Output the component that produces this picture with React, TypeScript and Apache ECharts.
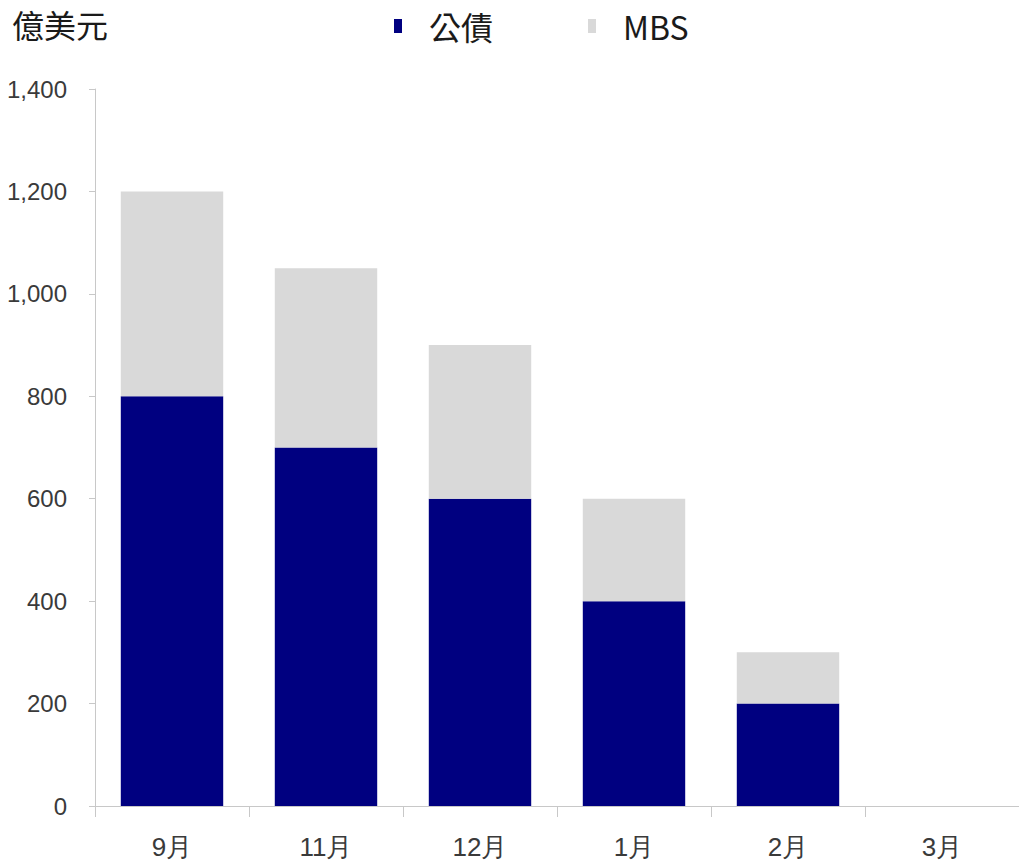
import React, { useEffect, useRef } from "react";
import * as echarts from "echarts";

const categories = ["9月", "11月", "12月", "1月", "2月", "3月"];
const treasuries = [800, 700, 600, 400, 200, 0];
const mbs = [400, 350, 300, 200, 100, 0];
const seriesNames = ["公債", "MBS"];
const unitLabel = "億美元";

const NUM_FONT = "'Liberation Sans Narrow', 'Liberation Sans', Arial, sans-serif";
const CJK_FONT = "'Noto Sans CJK TC', 'Noto Sans', sans-serif";

export default function App() {
  const ref = useRef<HTMLDivElement>(null);
  useEffect(() => {
    if (!ref.current) return;
    const chart = echarts.init(ref.current, undefined, { renderer: "svg" });
    chart.setOption({
      animation: false,
      backgroundColor: "#ffffff",
      title: {
        text: unitLabel,
        left: 7,
        top: 3,
        textStyle: { fontFamily: CJK_FONT, fontSize: 32, fontWeight: "normal", color: "#1a1a1a" },
      },
      legend: {
        left: 389,
        top: 5,
        itemWidth: 8,
        itemHeight: 14,
        itemGap: 95,
        icon: "rect",
        data: seriesNames,
        textStyle: {
          fontFamily: CJK_FONT,
          fontSize: 32,
          color: "#1a1a1a",
          padding: [0, 0, 0, 22],
        },
      },
      grid: { left: 95, width: 928, top: 89, bottom: 61, containLabel: false },
      xAxis: {
        type: "category",
        data: categories,
        boundaryGap: true,
        axisLine: { show: true, lineStyle: { color: "#c8c8c8", width: 1 } },
        axisTick: { show: true, length: 11, interval: 0, lineStyle: { color: "#c8c8c8" } },
        axisLabel: {
          interval: 0,
          margin: 28,
          fontFamily: NUM_FONT,
          fontSize: 26,
          color: "#3a3a3a",
        },
      },
      yAxis: {
        type: "value",
        min: 0,
        max: 1400,
        interval: 200,
        axisLine: { show: true, lineStyle: { color: "#c8c8c8", width: 1 } },
        axisTick: { show: true, length: 6, lineStyle: { color: "#c8c8c8" } },
        splitLine: { show: false },
        axisLabel: {
          margin: 28,
          fontFamily: NUM_FONT,
          fontSize: 24,
          color: "#3a3a3a",
          formatter: (v: number) => v.toLocaleString("en-US"),
        },
      },
      series: [
        {
          name: seriesNames[0],
          type: "bar",
          stack: "total",
          data: treasuries,
          barWidth: "66.5%",
          itemStyle: { color: "#000080" },
        },
        {
          name: seriesNames[1],
          type: "bar",
          stack: "total",
          data: mbs,
          barWidth: "66.5%",
          itemStyle: { color: "#d9d9d9" },
        },
      ],
    });
    return () => chart.dispose();
  }, []);
  return <div ref={ref} style={{ width: 1019, height: 867, position: "absolute", left: 0, top: 0 }} />;
}
